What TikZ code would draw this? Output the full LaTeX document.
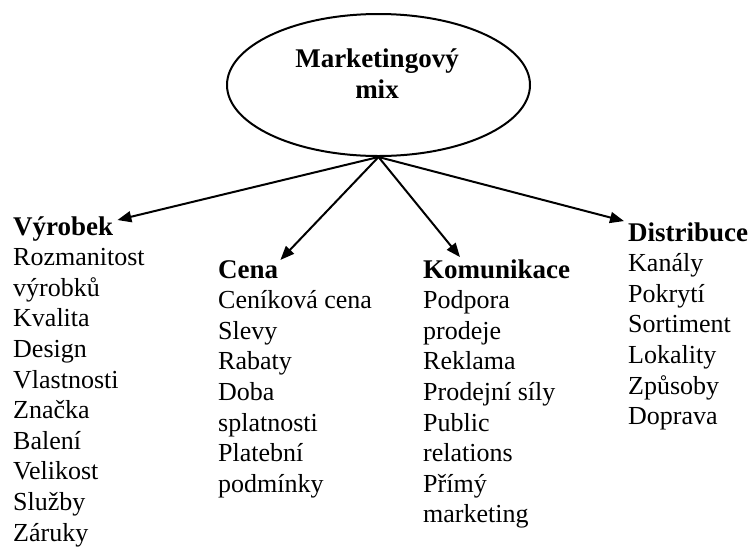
\documentclass[tikz,border=0pt]{standalone}
\usepackage{fontspec}
\setmainfont{Liberation Serif}
\usetikzlibrary{shapes.geometric,arrows.meta,calc}
\tikzset{hd/.style={font=\fontsize{27}{30.6}\selectfont\bfseries, inner sep=0pt, anchor=base west}}
\tikzset{tx/.style={font=\fontsize{26}{30.6}\selectfont, inner sep=0pt, anchor=base west}}
\tikzset{ar/.style={-{Triangle[length=14pt,width=11pt]}, line width=2pt}}

\begin{document}
\begin{tikzpicture}[x=1pt,y=-1pt]
    \useasboundingbox (0,0) rectangle (749,547);
    \node[draw, ellipse, line width=2pt, minimum width=303pt, minimum height=142pt, inner sep=0pt] (mix) at (378.5,85) {};
    \node[font=\fontsize{27}{31}\selectfont\bfseries, align=center, anchor=north, inner sep=0pt] (mixtext) at (377,49) {Marketingový\\mix};
    % headings
    \node[hd] (vyrobek) at (13,235) {Výrobek};
    \node[hd] (cena) at (218,278) {Cena};
    \node[hd] (komunikace) at (423,278) {Komunikace};
    \node[hd] (distribuce) at (628,241) {Distribuce};
    % items
    \foreach \t [count=\i] in {Rozmanitost, výrobků, Kvalita, Design, Vlastnosti, Značka, Balení, Velikost, Služby, Záruky}
      \node[tx] (vyrobek-\i) at (13,235+30.6*\i) {\t};
    \foreach \t [count=\i] in {Ceníková cena, Slevy, Rabaty, Doba, splatnosti, Platební, podmínky}
      \node[tx] (cena-\i) at (218,278+30.6*\i) {\t};
    \foreach \t [count=\i] in {Podpora, prodeje, Reklama, Prodejní síly, Public, relations, Přímý, marketing}
      \node[tx] (komunikace-\i) at (423,278+30.6*\i) {\t};
    \foreach \t [count=\i] in {Kanály, Pokrytí, Sortiment, Lokality, Způsoby, Doprava}
      \node[tx] (distribuce-\i) at (628,241+30.6*\i) {\t};
    % arrows
    \draw[ar] (mix.south) -- ($(vyrobek.north east)+(4,4)$);
    \draw[ar] (mix.south) -- ($(cena.north east)+(2,0)$);
    \draw[ar] (mix.south) -- ($(komunikace.north west)+(37,-2)$);
    \draw[ar] (mix.south) -- ($(distribuce.north west)+(-4,-1)$);
\end{tikzpicture}
\end{document}
